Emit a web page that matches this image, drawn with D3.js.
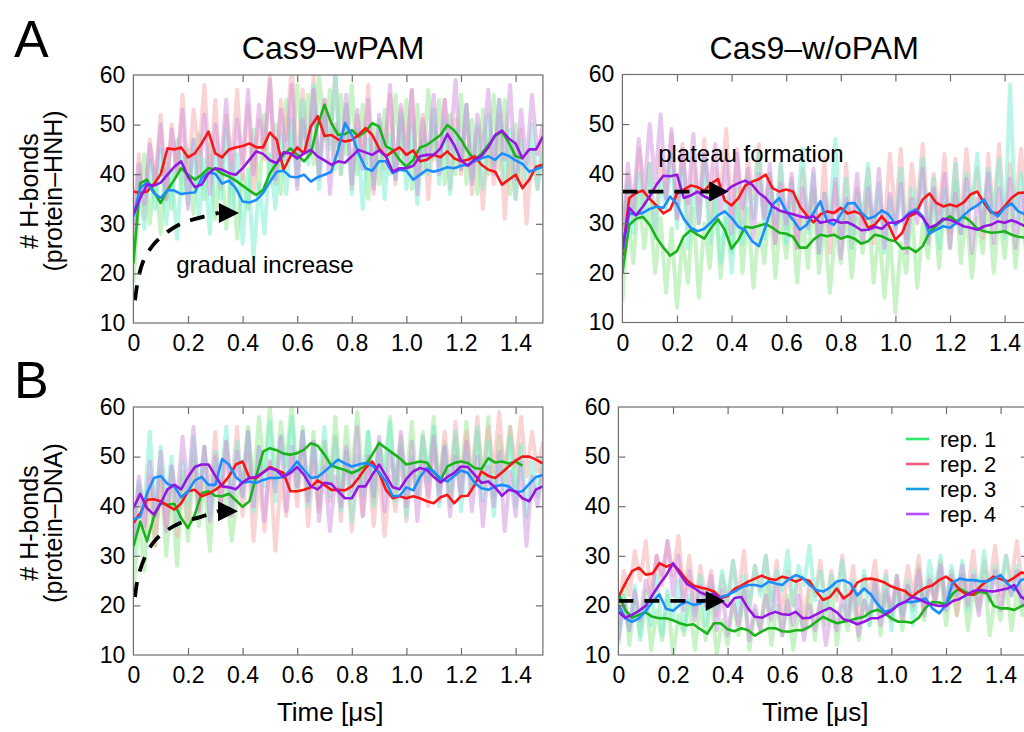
<!DOCTYPE html>
<html><head><meta charset="utf-8">
<script src="https://cdn.jsdelivr.net/npm/d3@7"></script>
<style>body{margin:0;background:#fff}svg{display:block}text{font-family:"Liberation Sans",Arial,Helvetica,sans-serif;fill:#000}</style>
</head><body><svg id="c" width="1024" height="732"></svg>
<script>
// ---------- axes / categories ----------
const timeDomain=[0,1.5];
const valueDomain=[10,60];
const xTicks=[0,0.2,0.4,0.6,0.8,1.0,1.2,1.4];
const xTickLabels=["0","0.2","0.4","0.6","0.8","1.0","1.2","1.4"];
const yTicks=[10,20,30,40,50,60];
const seriesNames=["rep. 1","rep. 2","rep. 3","rep. 4"];
const smoothStep=0.025;   // µs between smoothed samples
const rawStep=0.02;       // µs between raw samples

// ---------- smoothed series (H-bonds) ----------
// Cas9-wPAM, protein-HNH
const wpamHnhRep1=[22,38.2,38.9,36.5,34.2,36.8,38.9,41.2,39.9,38.9,39.9,41.2,41,40.1,39.5,38.7,37.7,36.7,35.8,36.8,40.2,42.2,43.9,45.2,43.9,42.6,44.2,49.9,54,50.3,47.9,48.1,48.9,47.6,48.6,50.3,49.6,45.6,44.9,42.9,41.5,42.9,45.4,45.9,46.9,47.9,49.9,48.8,47,44.6,42.9,44.1,45.9,47.7,48.6,46.4,43.6,43.2];
const wpamHnhRep2=[36.5,36.2,36.5,38,40,45.2,45,45.4,43.4,44.2,46.2,48.6,44.2,43.4,45,45.4,45.7,46.2,45.4,45.4,48.4,46.9,40.9,43.6,45.4,44.2,49.6,51.7,47.7,47.9,47,46.6,46.9,47.9,49.3,47.9,45.2,43.6,44.6,45.4,43.9,44.8,42.6,42.9,43.9,43.4,44.6,43.2,42.6,42.9,43.6,41.9,40.9,40.5,37.9,38.9,39.9,37.2,38.9,41.5,41.9];
const wpamHnhRep3=[31.5,37.2,38.3,36.2,35.2,36.8,36.7,36,36.2,36.3,39.2,40.3,40.1,38.1,38.7,37.2,34.5,34.3,34.8,36.2,38.5,40.5,40.7,39.5,39.4,39.9,38.5,39.4,39.9,40.5,44.9,50.3,47.9,44.2,41.2,40.7,42.6,42.6,40.2,40.9,40.7,38.9,39.9,40.9,40.5,40.9,41.4,41.2,41.7,41.9,42.6,43.2,43.6,42.9,44.2,43.7,42.8,42.1,40.5,41,41.5];
const wpamHnhRep4=[31.8,35.2,37.9,37.7,38.3,39.9,41.5,42.6,39.5,37.4,37.9,40.2,41.2,40.9,40.2,39.9,41.2,42.9,44.6,44.1,42.8,42.2,44.4,44.2,43.2,44.2,44.9,43.6,42.8,41.9,42.6,42.3,43.6,44.9,44.4,43.9,44.8,43.6,40.5,41.2,41.2,41.7,43.6,43.9,43.9,45.2,48.1,45.9,42.8,41.7,43,43.7,45.4,47.9,48.8,47.2,46.2,43.2,45,45,47.6];
// Cas9-w/oPAM, protein-HNH
const wopamHnhRep1=[20,29.7,30.9,31.3,29.7,27.1,25.1,23.5,24.4,27.4,28.6,27.7,26.9,29.1,30.8,28.7,24.9,26.7,29.3,29.1,29.5,29.9,29.1,28.1,27.9,27.3,25.1,25.1,26.7,27.7,27.4,27.7,26.9,27.4,26.9,25.9,26.4,27.7,27.4,26.7,26.4,24.9,25.1,24.2,25.4,28.2,29.5,30.6,31.4,30.4,31.4,30.4,28.9,28.4,28.1,28.2,28.4,27.7,27.3,27.1,27];
const wopamHnhRep2=[23.4,35.1,36.1,36.6,34.9,33.6,32,32.8,36,36.8,37.6,37.3,36.6,38,38.9,34.6,33.6,35.1,37.6,38.4,38.9,39.8,37.1,36.4,36.8,36.4,33.4,31.6,30.2,31.8,32.4,32.1,33.1,32,32.4,31.8,29.1,29.7,31.4,29.7,26.7,28.1,31.4,32,34.8,36,34.1,33.4,33.8,33.4,34.2,35.8,36.4,34.1,32.2,32,33.4,35.1,36.1,36.2,36];
const wopamHnhRep3=[24.1,32,31.8,32.1,32.9,33.4,33.1,35.4,33.8,30.9,29.1,28.4,28.9,30.2,31.6,32.4,31.1,29.3,28.6,26.4,25.4,29.4,33.8,35.1,32.4,30.7,28.7,29.7,32.1,34.4,30.4,29.7,31.8,34,34.1,32.2,30.9,31.4,32.6,31.8,29.7,30.7,32.1,32.8,31.4,27.9,28.7,29.4,29.1,30.1,31.6,32.8,33.6,34.8,32.4,31.4,33.1,34,32.4,31.8,31.5];
const wopamHnhRep4=[24.7,33.1,31.6,33.4,35.4,37.8,39.6,39.5,39.8,35.1,35.6,36.4,35.4,34.8,35.6,36.2,37.4,38.1,38.6,37.8,36.1,35.1,33.4,32.6,32.2,31.8,31.4,31.1,31.4,30.1,30.4,30.7,30.1,30.2,29.5,28.6,28.7,29.3,28.9,30.1,30.1,30.6,31.8,32.4,31.1,29.1,29.7,30.9,30.7,30.1,29.4,29.1,28.7,29.4,29.7,30.4,30.1,30.6,30.1,29.4,29.5];
// Cas9-wPAM, protein-DNA
const wpamDnaRep1=[31.9,36.9,32.9,37.9,40.6,40.3,40.5,37.6,35.6,38.3,42.6,43,42.1,42,42.5,41.2,39.9,41,46,51,51.7,51.3,50.6,50.4,50.7,51.4,52.7,52.2,50.4,48.2,47.7,47.3,46.7,47.3,48.2,50.4,52.7,51.7,50.7,49.7,48.4,48.7,49,48.8,46.8,45.2,48,48.7,49,48.7,47.7,47.5,49.7,48.8,49,48.6,49,48.2];
const wpamDnaRep2=[36.6,38.6,41.3,41.4,41,40.1,39.3,40.6,43,43.3,42,42.5,43.3,44.3,46,48.4,49,45.7,45.7,46.8,47.9,47.3,46.7,43,43,43.3,43.8,45.2,44.3,43.3,43.3,43.2,44,45.7,47.7,49,46.7,43.3,41.6,42,41.6,42,41.6,41,40.6,41.8,42.3,40.6,42,42.1,44.3,47,46.1,45.7,46.8,48,49.2,50,50,49.4,48.6];
const wpamDnaRep3=[37.3,37.9,42.6,45.7,46.1,44.5,44,41.8,43,45.2,45.9,44.3,44.3,49.5,48.4,45.9,44.7,45,44.7,45.3,45.7,45.7,45.9,47.3,49,47.3,45.7,45.9,47,48.2,49.4,48.6,48,48.4,48.7,48.2,46.8,45,42,42.1,43.8,43.2,45.9,47.7,47,45.5,45,46.1,47.2,46.7,44.7,43.6,43.3,44,44.3,44,42.8,43,44.5,45.9,46.3];
const wpamDnaRep4=[39.6,42.5,39.6,38.3,40.6,43.4,44.3,43.4,45.9,47.9,48.4,48.4,46.1,44,43.8,43.4,44.8,45.7,45.9,46.8,47.7,47.2,45.9,46.7,47.9,46.3,44,43.4,44.7,44.5,43,41.6,41.6,44,44,46.3,48.4,46.1,43.8,43.4,45.5,47,47.7,47.3,45.9,44.8,45.9,46.7,48,47.9,46.3,44.7,45,43.8,42.1,43.3,43,41.6,41,43.4,44];
// Cas9-w/oPAM, protein-DNA
const wopamDnaRep1=[22.4,19.1,17.5,18.1,18.6,17.7,17.4,17.4,17,16.4,16,16.2,15.2,14.3,16.4,16.4,15.2,14.8,15.4,15,13.9,14.7,15.4,15.4,14.8,14.7,15,15,15.7,16.7,17.7,17,16.4,16.7,17,17.4,17.7,18.7,19.1,18.4,17.4,16.7,16.7,16.5,17.5,19.5,20.7,20.6,20.2,22.4,23.4,22.6,22.1,22.8,22.4,19.9,19.4,19.4,19.1,19.8,20.5];
const wopamDnaRep2=[21.7,24.4,26.9,27.6,26.2,26.4,28.5,27.8,28.3,26.9,25.1,24,23.6,23.3,22.8,21.5,21.9,23.3,24,24.8,25.4,26,25.4,25.1,25.8,25.4,24.8,25.4,24.9,22.8,21.1,21.7,23.4,21.4,22.4,24.6,25.3,25.4,25.1,24.6,23.8,23.3,22.9,21.7,22.8,23.6,24,25.1,25.8,24.8,23.1,22.2,22.2,23.8,24.9,25.8,25.3,24.8,25.6,26.6,26.5];
const wopamDnaRep3=[20.1,17.4,16.7,17.4,18.9,20.7,22.2,19.3,18.9,20.1,20.7,20.1,20.4,21.4,21.4,21.7,22.1,22.8,23.6,24.1,24.1,23.8,24.8,24.4,24.1,25.3,26.1,25.6,24.1,23.1,22.8,23.6,24.8,25.1,24.4,22,23.4,22.2,20.2,18.7,19.1,20.2,20.7,20.7,20.9,21.4,19.4,18.4,20.1,24.6,25.4,25.1,25.1,24.9,24.8,25.4,26.1,24.4,23.1,25.1,25.5];
const wopamDnaRep4=[18.7,17.5,18.1,18.9,19.9,22.1,24.2,26.1,28.5,26.4,24.4,23.6,22.6,22.1,22.4,21.1,19.7,21.5,21.7,19.4,17.7,17.5,18.2,18.7,18.2,18.1,18.7,17.4,17.5,18.2,18.9,19.5,18.6,17.2,16.8,16.2,16.7,17.4,17.4,18.1,18.9,20.1,20.7,21.7,21.3,20.6,20.2,19.9,19.9,20.9,21.3,22.1,22.9,23.1,22.9,22.8,23.1,23.4,24.1,21.7,21];

// ---------- raw (unsmoothed) series ----------
const wpamHnhRaw1=[18,35,44,30,41,28,43,33,47,36,45,32,48,35,46,31,44,29,42,27,40,33,49,36,52,38,50,36,55,44,58,45,56,42,60,47,57,41,56,44,58,40,54,35,50,38,53,40,56,42,55,37,54,40,57,43,55,38,52,40,56,38,51,36,53,40,56,41,55,36,50,38];
const wpamHnhRaw2=[30,44,31,47,38,52,35,50,41,56,39,53,44,58,40,55,37,52,42,57,39,54,36,51,43,60,38,55,47,62,41,57,44,60,39,55,46,61,40,54,37,52,43,58,36,50,41,56,38,53,44,57,39,52,35,50,42,55,37,51,40,54,36,49,33,47,38,52,31,46,35,49,30,45,37,48];
const wpamHnhRaw3=[25,40,29,43,33,45,30,41,27,44,34,47,31,43,28,45,35,49,32,44,26,41,23,38,28,44,33,48,36,51,38,55,42,58,37,52,45,60,40,54,36,49,33,47,38,51,35,48,39,52,37,50,34,47,40,53,38,51,36,49,41,54,39,50,37,52,42,55,38,49,35,47,39,50,37,45];
const wpamHnhRaw4=[28,42,34,46,38,50,35,49,40,53,33,47,39,52,36,50,41,55,38,51,42,57,40,54,45,59,39,53,43,58,37,51,44,57,40,55,36,50,43,56,38,53,41,55,37,52,44,58,39,54,42,57,36,51,43,56,40,55,45,59,41,54,38,52,44,57,40,55,43,58,39,53,42,56,44,50];
const wopamHnhRaw1=[14,32,22,36,25,34,20,31,16,29,13,27,18,33,15,30,21,35,19,31,24,37,20,33,17,30,22,35,19,32,23,34,18,31,21,36,20,30,16,29,22,33,19,31,24,35,18,29,15,28,12,26,20,33,17,30,23,36,21,34,25,38,22,33,19,31,24,35,20,32,23,34,21,32,24,30];
const wopamHnhRaw2=[24,40,30,45,33,42,28,44,35,48,31,46,29,43,34,47,30,41,36,49,32,45,28,43,35,46,31,40,26,42,29,39,25,41,30,37,27,43,24,38,28,42,25,37,30,41,26,35,29,44,31,45,27,42,33,46,29,40,32,44,28,43,30,45,33,41,27,44,31,46,29,42,33,45,30,41];
const wopamHnhRaw3=[22,38,28,40,31,42,27,39,33,44,29,41,25,38,30,43,26,37,22,35,20,34,26,39,31,44,27,40,30,42,26,38,33,45,28,40,24,36,30,47,27,39,25,36,31,42,28,38,24,35,29,41,26,37,32,43,27,39,25,37,30,42,28,40,33,44,29,41,31,43,27,58,30,40,28,38];
const wopamHnhRaw4=[26,42,33,47,36,50,38,52,35,49,31,45,34,48,30,44,37,46,32,43,28,44,33,41,27,40,31,42,26,38,30,40,25,37,29,41,24,36,28,39,23,35,30,40,26,37,29,41,25,36,28,38,24,35,30,41,26,37,29,40,25,36,28,39,24,35,29,40,26,37,28,39,25,36,29,34];
const wpamDnaRaw1=[22,38,27,44,32,47,30,43,28,46,33,49,36,45,31,48,38,44,33,42,46,56,44,58,47,60,45,57,48,61,44,56,42,55,40,53,45,58,43,56,46,59,44,55,41,53,47,58,43,54,45,57,42,55,46,58,44,53,40,54,46,57,43,55,45,58,42,54,47,56,44,53];
const wpamDnaRaw2=[33,44,35,46,32,45,36,48,34,47,37,50,39,52,42,55,40,53,44,56,38,51,33,46,35,49,31,46,38,50,40,52,36,49,39,53,41,54,37,51,35,47,38,50,36,48,34,46,39,51,37,49,42,54,40,53,43,55,45,57,42,55,46,58,44,56,47,59,45,56,48,58,46,55,47,53];
const wpamDnaRaw3=[30,45,40,55,38,52,41,50,36,49,40,54,43,52,38,51,45,56,40,53,42,55,39,52,44,57,41,54,46,58,43,55,40,53,45,56,42,54,39,51,37,50,42,55,40,53,44,57,41,52,38,50,42,54,45,56,40,52,43,55,39,51,44,56,41,53,38,50,43,54,40,52,38,49,42,50];
const wpamDnaRaw4=[34,46,36,49,38,51,35,48,41,54,43,56,39,52,37,50,41,53,38,51,42,55,40,52,37,49,43,54,39,52,44,55,41,53,37,48,35,46,40,52,43,56,38,50,42,54,39,51,44,55,40,53,37,49,42,54,41,52,38,50,42,53,39,50,36,48,40,51,35,47,38,49,32,46,40,48];
const wopamDnaRaw1=[16,24,12,21,14,23,11,19,13,22,10,18,14,21,11,20,13,22,10,17,12,21,14,23,11,19,15,24,12,20,14,22,11,19,15,23,13,21,16,24,12,20,15,22,13,21,16,25,14,22,17,26,15,24,19,28,17,25,20,27,16,24,18,26,15,23,19,27,14,22,17,25,15,23,18,24];
const wopamDnaRaw2=[18,27,22,31,25,33,21,30,24,33,26,34,22,30,19,28,21,27,18,26,20,29,22,31,19,28,23,30,21,29,18,27,20,26,17,25,22,29,19,27,21,30,20,28,18,26,22,29,19,27,17,25,20,28,22,30,19,26,21,29,20,27,18,26,23,31,21,29,24,32,22,30,25,33,23,29];
const wopamDnaRaw3=[12,22,15,24,13,21,16,26,14,23,17,25,15,22,18,26,16,24,19,27,21,29,18,26,20,28,22,30,19,27,23,31,20,28,24,32,21,27,19,26,22,29,18,25,20,27,16,24,19,26,15,23,18,25,16,24,21,29,23,30,20,28,22,29,19,27,23,31,21,28,24,30,22,28,20,27];
const wopamDnaRaw4=[13,21,15,23,17,25,21,30,26,33,22,30,19,27,17,24,20,26,15,23,14,21,16,23,13,20,15,22,17,24,14,21,16,22,13,20,15,21,12,19,15,22,17,24,14,21,18,25,16,23,19,26,17,24,20,27,18,25,21,28,19,26,22,28,20,26,18,25,21,27,19,25,22,27,20,24];

// ---------- styles ----------
const smoothColors=["#1bb31b","#f81616","#1c8cff","#9416e0"];
const rawColors=["#8fe88f","#f5a9a9","#72f0cf","#cf8fdd"];
const legendColors=["#2ee870","#ee5a7c","#1a9de0","#b44dff"];
const FONT='"Liberation Sans",Arial,Helvetica,sans-serif';

const svg=d3.select("#c");
const W=409.5, H=248;
const panels=[
 {id:"tl",left:133.4,top:75,smooth:[wpamHnhRep1,wpamHnhRep2,wpamHnhRep3,wpamHnhRep4],raw:[wpamHnhRaw1,wpamHnhRaw2,wpamHnhRaw3,wpamHnhRaw4],
  title:"Cas9–wPAM",titleShift:-5,yTitle:["# H-bonds","(protein–HNH)"],letter:"A",letterY:57,xTitle:false},
 {id:"tr",left:622.4,top:74.5,smooth:[wopamHnhRep1,wopamHnhRep2,wopamHnhRep3,wopamHnhRep4],raw:[wopamHnhRaw1,wopamHnhRaw2,wopamHnhRaw3,wopamHnhRaw4],
  title:"Cas9–w/oPAM",titleShift:-13,xTitle:false},
 {id:"bl",left:133.4,top:407,smooth:[wpamDnaRep1,wpamDnaRep2,wpamDnaRep3,wpamDnaRep4],raw:[wpamDnaRaw1,wpamDnaRaw2,wpamDnaRaw3,wpamDnaRaw4],
  yTitle:["# H-bonds","(protein–DNA)"],letter:"B",letterY:398,xTitle:true},
 {id:"br",left:618.4,top:407,smooth:[wopamDnaRep1,wopamDnaRep2,wopamDnaRep3,wopamDnaRep4],raw:[wopamDnaRaw1,wopamDnaRaw2,wopamDnaRaw3,wopamDnaRaw4],
  xTitle:true,legend:true}
];

// annotations in data coordinates
const annotations={
 tl:{type:"curve",pts:[[0.006,14.6],[0.017,18.7],[0.035,22.3],[0.072,25.7],[0.123,28.3],[0.182,30.2],[0.255,31.4],[0.313,32.2]],tip:[0.387,32.2],
     label:"gradual increase",labelPos:[0.157,20.1]},
 tr:{type:"line",pts:[[0,36.4],[0.318,36.4]],tip:[0.388,36.4],label:"plateau formation",labelPos:[0.131,42.4]},
 bl:{type:"curve",pts:[[0.006,21.7],[0.017,25.7],[0.043,29.8],[0.072,32.6],[0.109,34.6],[0.171,36.6],[0.244,37.8],[0.31,39]],tip:[0.383,39]},
 br:{type:"line",pts:[[0,20.9],[0.32,20.9]],tip:[0.39,20.9]}
};

panels.forEach(p=>{
  const x=d3.scaleLinear().domain(timeDomain).range([p.left,p.left+W]);
  const y=d3.scaleLinear().domain(valueDomain).range([p.top+H,p.top]);
  const g=svg.append("g");
  const clipId="clip-"+p.id;
  svg.append("clipPath").attr("id",clipId).append("rect")
    .attr("x",p.left).attr("y",p.top).attr("width",W).attr("height",H);
  const plot=g.append("g").attr("clip-path",`url(#${clipId})`);

  const rawLine=d3.line().x((d,i)=>x(i*rawStep)).y(d=>y(d));
  p.raw.forEach((s,k)=>{
    plot.append("path").attr("d",rawLine(s)).attr("fill","none")
      .attr("stroke",rawColors[k]).attr("stroke-width",4).attr("stroke-opacity",0.5)
      .attr("stroke-linejoin","round");
  });
  const smLine=d3.line().x((d,i)=>x(i*smoothStep)).y(d=>y(d));
  p.smooth.forEach((s,k)=>{
    plot.append("path").attr("d",smLine(s)).attr("fill","none")
      .attr("stroke",smoothColors[k]).attr("stroke-width",2.6).attr("stroke-linejoin","round");
  });

  // annotation
  const a=annotations[p.id];
  const ann=g.append("g");
  const aLine=d3.line().x(d=>x(d[0])).y(d=>y(d[1])).curve(a.type==="curve"?d3.curveCatmullRom:d3.curveLinear);
  ann.append("path").attr("d",aLine(a.pts)).attr("fill","none").attr("stroke","#000")
    .attr("stroke-width",3.8).attr("stroke-dasharray","15,11");
  const tx=x(a.tip[0]), ty=y(a.tip[1]), bx=x(a.pts[a.pts.length-1][0]);
  ann.append("path").attr("d",`M${tx},${ty}L${bx},${ty-10}L${bx},${ty+10}Z`).attr("fill","#000");
  if(a.label){
    ann.append("text").attr("x",x(a.labelPos[0])).attr("y",y(a.labelPos[1]))
      .attr("font-size",24).text(a.label);
  }

  // frame
  g.append("rect").attr("x",p.left).attr("y",p.top).attr("width",W).attr("height",H)
    .attr("fill","none").attr("stroke","#6e6e6e").attr("stroke-width",1.2);

  // inward ticks
  const tickStyle=sel=>{sel.select(".domain").remove();sel.selectAll("line").attr("stroke","#6e6e6e").attr("stroke-width",1.2);sel.selectAll("text").remove();};
  g.append("g").attr("transform",`translate(0,${p.top+H})`).call(d3.axisBottom(x).tickValues(xTicks.slice(1)).tickSize(-7)).call(tickStyle);
  g.append("g").attr("transform",`translate(0,${p.top})`).call(d3.axisTop(x).tickValues(xTicks.slice(1)).tickSize(-7)).call(tickStyle);
  g.append("g").attr("transform",`translate(${p.left},0)`).call(d3.axisLeft(y).tickValues(yTicks.slice(1,-1)).tickSize(-7)).call(tickStyle);
  g.append("g").attr("transform",`translate(${p.left+W},0)`).call(d3.axisRight(y).tickValues(yTicks.slice(1,-1)).tickSize(-7)).call(tickStyle);

  // tick labels
  const lab=sel=>{sel.select(".domain").remove();sel.selectAll("line").remove();
    sel.selectAll("text").attr("font-size",23).attr("font-family",FONT).attr("fill","#000");};
  g.append("g").attr("transform",`translate(0,${p.top+H})`)
    .call(d3.axisBottom(x).tickValues(xTicks).tickSize(0).tickPadding(12).tickFormat((d,i)=>xTickLabels[i])).call(lab);
  g.append("g").attr("transform",`translate(${p.left},0)`)
    .call(d3.axisLeft(y).tickValues(yTicks).tickSize(0).tickPadding(8).tickFormat(d3.format("d"))).call(lab);

  if(p.title){
    svg.append("text").attr("x",p.left+W/2+p.titleShift).attr("y",59).attr("text-anchor","middle")
      .attr("font-size",32).text(p.title);
  }
  if(p.letter){
    svg.append("text").attr("x",14).attr("y",p.letterY).attr("font-size",52).text(p.letter);
  }
  if(p.yTitle){
    const cy=p.top+H/2-8;
    svg.append("text").attr("transform",`translate(38,${cy}) rotate(-90)`).attr("text-anchor","middle")
      .attr("font-size",25).text(p.yTitle[0]);
    svg.append("text").attr("transform",`translate(62,${cy}) rotate(-90)`).attr("text-anchor","middle")
      .attr("font-size",25).text(p.yTitle[1]);
  }
  if(p.xTitle){
    svg.append("text").attr("x",p.left+W/2-8).attr("y",721).attr("text-anchor","middle")
      .attr("font-size",26).text("Time [μs]");
  }
  if(p.legend){
    const lg=svg.append("g");
    seriesNames.forEach((n,k)=>{
      const yy=439+k*25;
      lg.append("line").attr("x1",906).attr("x2",929).attr("y1",yy).attr("y2",yy)
        .attr("stroke",legendColors[k]).attr("stroke-width",2.6);
      lg.append("text").attr("x",940).attr("y",yy+8).attr("font-size",22).text(n);
    });
  }
});
</script></body></html>
